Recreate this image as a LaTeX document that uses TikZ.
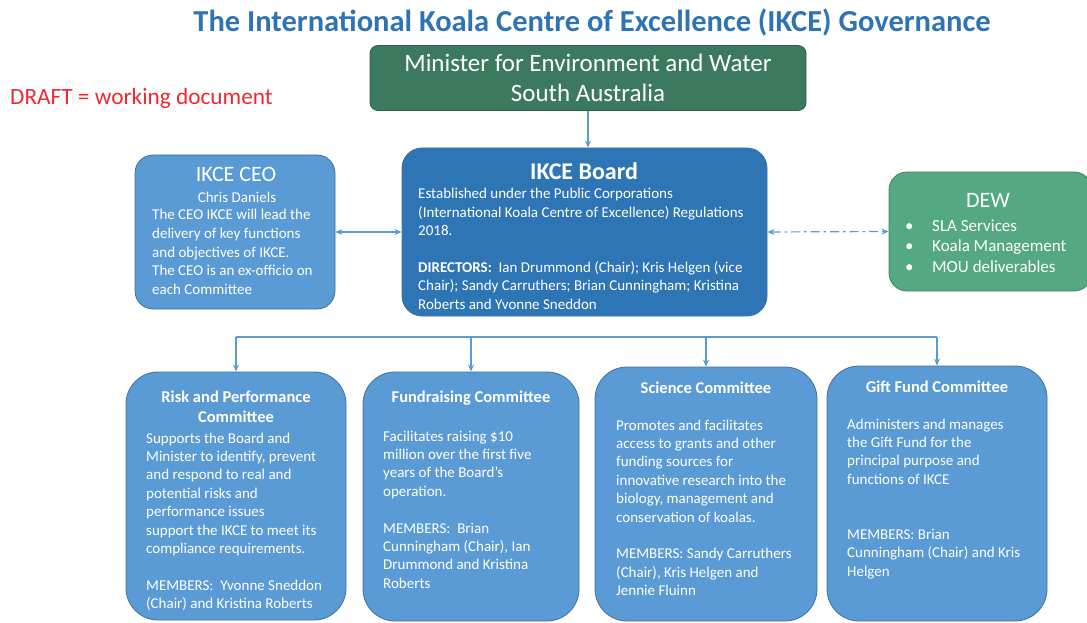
\documentclass[tikz,border=0pt]{standalone}
\usepackage{fontspec}
\setmainfont{Carlito}
\usetikzlibrary{arrows.meta}
\definecolor{titleblue}{RGB}{46,116,181}
\definecolor{mingreen}{RGB}{59,122,94}
\definecolor{minedge}{RGB}{45,95,72}
\definecolor{dewgreen}{RGB}{84,168,130}
\definecolor{dewedge}{RGB}{62,130,100}
\definecolor{lightblue}{RGB}{91,155,213}
\definecolor{boardblue}{RGB}{46,117,182}
\definecolor{boxedge}{RGB}{65,113,156}
\definecolor{arrowblue}{RGB}{91,155,213}
\definecolor{draftred}{RGB}{240,40,50}
\begin{document}
\begin{tikzpicture}[x=1pt,y=-1pt,
  box/.style={rounded corners=#1, draw=boxedge, line width=0.8pt, inner sep=0pt},
  body/.style={font=\fontsize{15}{18.4}\selectfont, text=white, align=left, anchor=north west, inner sep=0pt},
  ctitle/.style={font=\fontsize{16.5}{20}\selectfont\bfseries, text=white, align=center, inner sep=0pt},
  conn/.style={draw=arrowblue, line width=1.2pt},
  tip/.style={-{Stealth[length=7pt,width=6pt]}},
  dtip/.style={{Stealth[length=7pt,width=6pt]}-{Stealth[length=7pt,width=6pt]}}
]
\useasboundingbox (0,0) rectangle (1087,623);
\clip (0,0) rectangle (1087,623);

% title and draft note
\node[font=\fontsize{30.5}{34}\selectfont\bfseries, text=titleblue, inner sep=0pt] (title) at (592,22) {The International Koala Centre of Excellence (IKCE) Governance};
\node[font=\fontsize{23.3}{26}\selectfont, text=draftred, anchor=west, inner sep=0pt] (draft) at (10,98) {DRAFT = working document};

% Minister
\node[box=8pt, draw=minedge, fill=mingreen, minimum width=436pt, minimum height=65pt,
      font=\fontsize{25}{30}\selectfont, text=white, align=center] (min) at (588,78)
  {Minister for Environment and Water\\South Australia};

% CEO
\node[box=18pt, fill=lightblue, minimum width=200pt, minimum height=154pt] (ceo) at (235,232) {};
\node[font=\fontsize{22}{26}\selectfont, text=white, inner sep=0pt] (ceoh) at (236,174) {IKCE CEO};
\node[font=\fontsize{15}{18}\selectfont, text=white, inner sep=0pt] (ceon) at (237,197.5) {Chris Daniels};
\node[body, font=\fontsize{15}{18.7}\selectfont] (ceob) at (152,209)
  {The CEO IKCE will lead the\\delivery of key functions\\and objectives of IKCE.\\The CEO is an ex-officio on\\each Committee};

% Board
\node[box=20pt, fill=boardblue, minimum width=365pt, minimum height=168pt] (board) at (584.5,232) {};
\node[font=\fontsize{24}{28}\selectfont\bfseries, text=white, inner sep=0pt] (boardh) at (584,171) {IKCE Board};
\node[body] (boardb) at (418,188)
  {Established under the Public Corporations\\(International Koala Centre of Excellence) Regulations\\2018.\\[18.4pt]\textbf{DIRECTORS:}\ \ Ian Drummond (Chair); Kris Helgen (vice\\Chair); Sandy Carruthers; Brian Cunningham; Kristina\\Roberts and Yvonne Sneddon};

% DEW
\node[box=18pt, draw=dewedge, fill=dewgreen, minimum width=203pt, minimum height=119pt] (dew) at (990.5,231.5) {};
\node[font=\fontsize{22}{26}\selectfont, text=white, inner sep=0pt] (dewh) at (988,200) {DEW};
\node[body, font=\fontsize{17}{20.5}\selectfont] (dewb) at (905,219.5)
  {\makebox[27pt][l]{•}SLA Services\\\makebox[27pt][l]{•}Koala Management\\\makebox[27pt][l]{•}MOU deliverables};

% Committees
\node[box=32pt, fill=lightblue, minimum width=220pt, minimum height=248pt] (risk) at (236,496) {};
\node[box=32pt, fill=lightblue, minimum width=216pt, minimum height=249pt] (fund) at (471,496.5) {};
\node[box=32pt, fill=lightblue, minimum width=222pt, minimum height=254pt] (sci) at (706,494) {};
\node[box=32pt, fill=lightblue, minimum width=220pt, minimum height=255pt] (gift) at (937,493.5) {};

\node[ctitle] (riskh) at (236,407) {Risk and Performance\\Committee};
\node[ctitle] (fundh) at (471,398) {Fundraising Committee};
\node[ctitle] (scih) at (706,388) {Science Committee};
\node[ctitle] (gifth) at (937,387) {Gift Fund Committee};

\node[body] (riskb) at (146,432.5)
  {Supports the Board and\\Minister to identify, prevent\\and respond to real and\\potential risks and\\performance issues\\support the IKCE to meet its\\compliance requirements.\\[18.4pt]MEMBERS:\ \ Yvonne Sneddon\\(Chair) and Kristina Roberts};
\node[body] (fundb) at (383,430.5)
  {Facilitates raising \$10\\million over the first five\\years of the Board's\\operation.\\[18.4pt]MEMBERS:\ \ Brian\\Cunningham (Chair), Ian\\Drummond and Kristina\\Roberts};
\node[body] (scib) at (616,419.5)
  {Promotes and facilitates\\access to grants and other\\funding sources for\\innovative research into the\\biology, management and\\conservation of koalas.\\[18.4pt]MEMBERS: Sandy Carruthers\\(Chair), Kris Helgen and\\Jennie Fluinn};
\node[body] (giftb) at (847,418.5)
  {Administers and manages\\the Gift Fund for the\\principal purpose and\\functions of IKCE\\[36.8pt]MEMBERS: Brian\\Cunningham (Chair) and Kris\\Helgen};

% connectors
\draw[conn, tip] (min.south) -- (min.south |- board.north);
\draw[conn, dtip] (ceo.east) -- (board.west);
\draw[conn, dtip, dash pattern=on 9pt off 4pt on 2.5pt off 4pt] (board.east) -- (dew.west);

\coordinate (bus) at (0,337);
\draw[conn] (risk.north |- bus) -- (gift.north |- bus);
\draw[conn, tip] (risk.north |- bus) -- (risk.north);
\draw[conn, tip] (fund.north |- bus) -- (fund.north);
\draw[conn, tip] (sci.north |- bus) -- (sci.north);
\draw[conn, tip] (gift.north |- bus) -- (gift.north);
\end{tikzpicture}
\end{document}
